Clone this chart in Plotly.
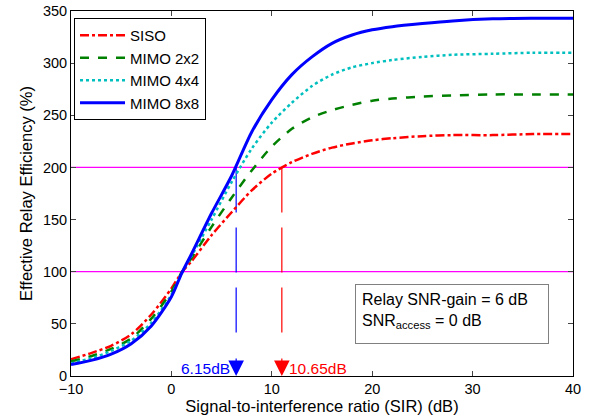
import plotly.graph_objects as go

sir = [-10, -8, -6, -4, -2, 0, 1, 2, 4, 6, 8, 10, 12, 14, 16, 18, 20, 22, 25, 28, 32, 36, 40]
siso = [16, 22, 29, 40, 59, 84, 99, 110, 135, 157, 178, 194, 205, 213, 219, 223, 226, 228, 230, 231, 231, 232, 232]
mimo2 = [14, 19, 26, 36, 55, 81, 99, 113, 143, 171, 197, 220, 237, 248, 255, 260, 264, 266, 268, 269, 270, 270, 270]
mimo4 = [12, 17, 24, 34, 51, 78, 98, 115, 150, 186, 218, 243, 262, 278, 289, 296, 300, 303, 306, 308, 309, 310, 310]
mimo8 = [11, 15, 21, 31, 48, 76, 98, 117, 156, 192, 234, 265, 289, 306, 319, 327, 332, 335, 338, 340.5, 342.5, 343, 343]

names = ["SISO", "MIMO 2x2", "MIMO 4x4", "MIMO 8x8"]
colors = ["#FF0000", "#008000", "#00BFBF", "#0000FF"]
dashes = ["dashdot", "dash", "dot", "solid"]
widths = [2.5, 2.5, 2.5, 3]

ref_levels = [100, 200]
cross_x = [6.45, 11.0]
cross_labels = ["6.15dB", "10.65dB"]
cross_colors = ["#0000FF", "#FF0000"]

FONT = "Liberation Sans, Arial, sans-serif"

fig = go.Figure()

for lv in ref_levels:
    fig.add_trace(go.Scatter(x=[sir[0], sir[-1]], y=[lv, lv], mode="lines",
                             line=dict(color="#FF00FF", width=1.3), showlegend=False,
                             hoverinfo="skip"))

for cx, cc in zip(cross_x, cross_colors):
    fig.add_trace(go.Scatter(x=[cx, cx], y=[200, 41], mode="lines",
                             line=dict(color=cc, width=1.2, dash="45px,15px"),
                             showlegend=False, hoverinfo="skip"))

for y, n, c, d, w in zip([siso, mimo2, mimo4, mimo8], names, colors, dashes, widths):
    fig.add_trace(go.Scatter(x=sir, y=y, mode="lines", name=n,
                             line=dict(color=c, dash=d, width=w, shape="spline", smoothing=0.8)))

anns = []
for cx, cl, cc, side in zip(cross_x, cross_labels, cross_colors, ["right", "left"]):
    anns.append(dict(x=cx, y=0, xref="x", yref="y", ax=0, ay=-27, showarrow=True,
                     arrowhead=2, arrowsize=2.6, arrowwidth=1.2, arrowcolor=cc, text=" "))
    anns.append(dict(x=cx, y=0, xref="x", yref="y", showarrow=False, text=cl,
                     xanchor=side, yanchor="bottom", xshift=-4 if side == "right" else 5,
                     yshift=-3, font=dict(family=FONT, size=15.5, color=cc)))

anns.append(dict(xref="paper", yref="paper", x=0.566, y=0.252, xanchor="left", yanchor="top",
                 showarrow=False, align="left", valign="top", width=180, height=46,
                 borderpad=6, bordercolor="#808080", borderwidth=1, bgcolor="white",
                 text="Relay SNR-gain = 6 dB<br>SNR<sub>access</sub> = 0 dB",
                 font=dict(family=FONT, size=16, color="black")))

fig.update_layout(
    width=589, height=420,
    margin=dict(l=71, r=16, t=11, b=44, autoexpand=False),
    paper_bgcolor="white", plot_bgcolor="white",
    font=dict(family=FONT, size=14.5, color="black"),
    annotations=anns,
    legend=dict(x=0.006, y=0.981, xanchor="left", yanchor="top",
                bordercolor="black", borderwidth=1, bgcolor="white",
                font=dict(family=FONT, size=15, color="black"),
                tracegroupgap=0, itemwidth=45),
)
fig.update_xaxes(range=[-10, 40], tickvals=[-10, 0, 10, 20, 30, 40], ticks="inside", ticklen=5,
                 showline=True, linecolor="black", linewidth=1, mirror="ticks", showgrid=False,
                 zeroline=False, automargin=False,
                 title=dict(text="Signal-to-interference ratio (SIR) (dB)",
                 font=dict(size=16.5), standoff=4))
fig.update_yaxes(range=[0, 350], tickvals=[0, 50, 100, 150, 200, 250, 300, 350], ticks="inside",
                 ticklen=5, showline=True, linecolor="black", linewidth=1, mirror="ticks",
                 showgrid=False, zeroline=False, automargin=False,
                 title=dict(text="Effective Relay Efficiency (%)", font=dict(size=16.5), standoff=6))

fig.write_html("out.html")
